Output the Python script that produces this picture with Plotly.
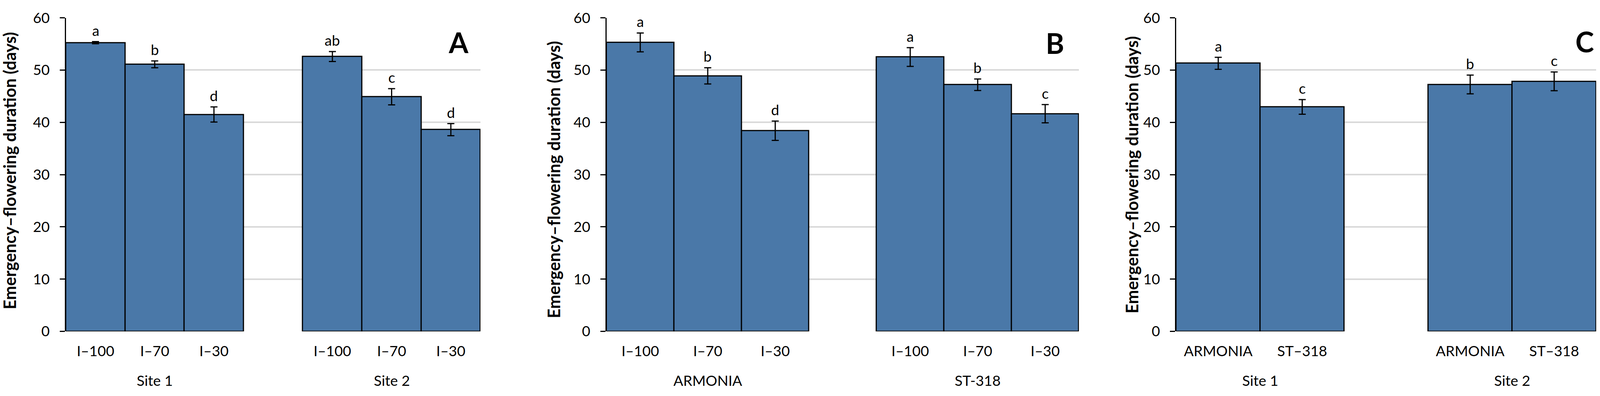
import plotly.graph_objects as go

# ---------------- data ----------------
A_groups = ["Site 1", "Site 2"]
A_items = ["I–100", "I–70", "I–30"]
A_mean = [[55.25, 51.1, 41.5], [52.6, 44.9, 38.6]]
A_err = [[0.2, 0.65, 1.45], [0.95, 1.55, 1.15]]
A_letters = [["a", "b", "d"], ["ab", "c", "d"]]

B_groups = ["ARMONIA", "ST-318"]
B_items = ["I–100", "I–70", "I–30"]
B_mean = [[55.3, 48.9, 38.4], [52.5, 47.2, 41.65]]
B_err = [[1.8, 1.55, 1.85], [1.8, 1.1, 1.75]]
B_letters = [["a", "b", "d"], ["a", "b", "c"]]

C_groups = ["Site 1", "Site 2"]
C_items = ["ARMONIA", "ST–318"]
C_mean = [[51.3, 42.95], [47.25, 47.85]]
C_err = [[1.15, 1.4], [1.8, 1.8]]
C_letters = [["a", "c"], ["b", "c"]]

Y_TITLE = "Emergency–flowering duration (days)"
Y_TICKS = [0, 10, 20, 30, 40, 50, 60]

# ---------------- layout constants (pixels of the 4176x1014 frame) ----------------
W, H = 4176, 1014
FONT = "Lato"
BAR = "#4a78a8"
GRID = "#d9d9d9"
plot_top, plot_bot = 22.7, 862.7

panels = [
    dict(name="A", groups=A_groups, items=A_items, mean=A_mean, err=A_err, letters=A_letters,
         x0=172, x1=1254, title_x=25, title_y=433, letter_xy=(1197, 88)),
    dict(name="B", groups=B_groups, items=B_items, mean=B_mean, err=B_err, letters=B_letters,
         x0=1583, x1=2816, title_x=1445, title_y=456, letter_xy=(2753, 90)),
    dict(name="C", groups=C_groups, items=C_items, mean=C_mean, err=C_err, letters=C_letters,
         x0=3070, x1=4166, title_x=2954, title_y=443, letter_xy=(4136, 86)),
]

fig = go.Figure()
annotations = []


def px_x(v):
    return v / W


def px_y(v):
    return 1 - v / H


for k, p in enumerate(panels, start=1):
    xa = "x" if k == 1 else f"x{k}"
    ya = "y" if k == 1 else f"y{k}"
    n = len(p["items"])
    xs, ys, es, labels = [], [], [], []
    for g, grp in enumerate(p["groups"]):
        for i, it in enumerate(p["items"]):
            xs.append(g * (n + 1) + i)
            ys.append(p["mean"][g][i])
            es.append(p["err"][g][i])
            labels.append(it)
    fig.add_trace(go.Bar(
        x=xs, y=ys, xaxis=xa, yaxis=ya,
        marker=dict(color=BAR, line=dict(color="black", width=3)),
        error_y=dict(type="data", array=es, visible=True, color="black", thickness=3, width=9),
        width=1.0, showlegend=False, hoverinfo="skip",
    ))
    # significance letters
    for g in range(len(p["groups"])):
        for i in range(n):
            annotations.append(dict(
                x=g * (n + 1) + i, y=p["mean"][g][i] + p["err"][g][i], xref=xa, yref=ya,
                text=p["letters"][g][i], showarrow=False, yanchor="bottom", yshift=5,
                font=dict(family=FONT, size=37, color="black"),
            ))
    # group labels
    for g, grp in enumerate(p["groups"]):
        annotations.append(dict(
            x=g * (n + 1) + (n - 1) / 2, y=px_y(994), xref=xa, yref="paper",
            text=grp, showarrow=False, yanchor="middle",
            font=dict(family=FONT, size=37, color="black"),
        ))
    # y title
    annotations.append(dict(
        x=px_x(p["title_x"]), y=px_y(p["title_y"]), xref="paper", yref="paper",
        text=f"<b>{Y_TITLE}</b>", textangle=-90, showarrow=False,
        xanchor="center", yanchor="middle",
        font=dict(family=FONT, size=43, color="black"),
    ))
    # panel letter
    annotations.append(dict(
        x=px_x(p["letter_xy"][0]), y=px_y(p["letter_xy"][1]), xref="paper", yref="paper",
        text=f"<b>{p['name']}</b>", showarrow=False, xanchor="center", yanchor="middle",
        font=dict(family=FONT, size=72, color="black"),
    ))
    nslots = len(p["groups"]) * (n + 1) - 1
    xkey = "xaxis" if k == 1 else f"xaxis{k}"
    ykey = "yaxis" if k == 1 else f"yaxis{k}"
    fig.update_layout(**{
        xkey: dict(
            domain=[px_x(p["x0"]), px_x(p["x1"])], anchor=ya,
            range=[-0.5, nslots - 0.5], tickmode="array", tickvals=xs, ticktext=labels,
            showgrid=False, zeroline=False, showline=False, ticks="",
            ticklabelstandoff=26, ticklabeloverflow="allow",
            tickfont=dict(family=FONT, size=37, color="black"),
        ),
        ykey: dict(
            domain=[px_y(plot_bot), px_y(plot_top)], anchor=xa,
            range=[0, 60], tickmode="array", tickvals=Y_TICKS,
            showgrid=True, gridcolor=GRID, gridwidth=4, zeroline=False,
            showline=True, linecolor="black", linewidth=3,
            ticks="outside", ticklen=13, tickwidth=3, tickcolor="black",
            ticklabelstandoff=18, ticklabeloverflow="allow",
            tickfont=dict(family=FONT, size=37, color="black"),
        ),
    })

fig.update_layout(
    width=W, height=H, margin=dict(l=0, r=0, t=0, b=0),
    paper_bgcolor="white", plot_bgcolor="white",
    bargap=0, annotations=annotations,
    font=dict(family=FONT),
)

# fit the figure to the visible window (no page margin, no scrollbars)
fit_js = (
    "document.body.style.margin='0';"
    "document.body.style.overflow='hidden';"
    "var gd=document.getElementById('{plot_id}');"
    "Plotly.relayout(gd,{width:window.innerWidth,height:window.innerHeight});"
)

fig.write_html("out.html", post_script=fit_js, config={"displayModeBar": False})
